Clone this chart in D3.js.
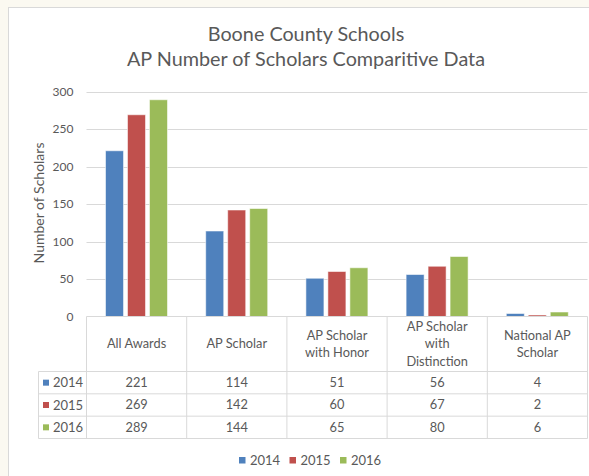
<!DOCTYPE html>
<html>
<head>
<meta charset="utf-8">
<script src="https://cdn.jsdelivr.net/npm/d3@7"></script>
<style>
  html, body { margin: 0; padding: 0; background: #fbf9f1; }
  svg { display: block; }
  text { font-family: Lato, "Open Sans", sans-serif; fill: #595959; }
</style>
</head>
<body>
<svg id="chart" width="589" height="476"></svg>
<script>
// ---- data ----
const categories = [
  ["All Awards"],
  ["AP Scholar"],
  ["AP Scholar", "with Honor"],
  ["AP Scholar", "with", "Distinction"],
  ["National AP", "Scholar"]
];
const years = ["2014", "2015", "2016"];
const values2014 = [221, 114, 51, 56, 4];
const values2015 = [269, 142, 60, 67, 2];
const values2016 = [289, 144, 65, 80, 6];
const yTicks = [0, 50, 100, 150, 200, 250, 300];
const titleLines = ["Boone County Schools", "AP Number of Scholars Comparitive Data"];
const yTitle = "Number of Scholars";

const seriesValues = [values2014, values2015, values2016];
const colors = ["#4f81bd", "#c0504d", "#9bbb59"];

// ---- layout ----
const svg = d3.select("#chart");
svg.append("rect").attr("x", 0).attr("y", 0).attr("width", 589).attr("height", 476).attr("fill", "#fbf9f1");
svg.append("rect").attr("x", 8.5).attr("y", 7.5).attr("width", 620).attr("height", 520)
  .attr("fill", "#ffffff").attr("stroke", "#d9d9d9");

const plotLeft = 86.5, plotRight = 587.5, plotTop = 91.5, plotBottom = 316.5;
const catKeys = categories.map((c, i) => i);

const x = d3.scaleBand().domain(catKeys).range([plotLeft, plotRight]).padding(0);
const xs = d3.scaleBand().domain(years).range([19, 81]).paddingInner(0.18).paddingOuter(0);
const y = d3.scaleLinear().domain([0, 300]).range([plotBottom, plotTop]);

// title
const title = svg.append("g");
title.selectAll("text").data(titleLines).join("text")
  .attr("x", 306).attr("y", (d, i) => 41 + i * 25)
  .attr("text-anchor", "middle")
  .style("font-size", "19.8px")
  .text(d => d);

// gridlines
svg.append("g").selectAll("line").data(yTicks.filter(t => t > 0)).join("line")
  .attr("x1", plotLeft).attr("x2", plotRight)
  .attr("y1", d => Math.round(y(d)) + 0.5).attr("y2", d => Math.round(y(d)) + 0.5)
  .attr("stroke", "#d9d9d9").attr("stroke-width", 1);

// y axis (labels only)
const yAxis = d3.axisLeft(y).tickValues(yTicks).tickSize(0).tickPadding(0);
const yg = svg.append("g").attr("transform", `translate(73.5,0)`).call(yAxis);
yg.select(".domain").remove();
yg.selectAll("text").style("font-size", "12px").attr("fill", "#595959")
  .style("font-family", "Lato, 'Open Sans', sans-serif");

// y title
svg.append("text")
  .attr("transform", "translate(44,203) rotate(-90)")
  .attr("text-anchor", "middle")
  .style("font-size", "14px")
  .text(yTitle);

// bars
const groups = svg.append("g").selectAll("g").data(catKeys).join("g")
  .attr("transform", d => `translate(${x(d)},0)`);
groups.selectAll("rect")
  .data(ci => years.map((yr, si) => ({ yr, si, v: seriesValues[si][ci] })))
  .join("rect")
  .attr("x", d => xs(d.yr))
  .attr("width", xs.bandwidth())
  .attr("y", d => y(d.v))
  .attr("height", d => y(0) - y(d.v))
  .attr("fill", d => colors[d.si])
  .attr("stroke", "#ffffff").attr("stroke-opacity", 0.55).attr("stroke-width", 1);

// data table
const tableLeft = 38.5;
const headerBottom = 371.5;
const rowY = d3.scaleBand().domain(years).range([headerBottom, 438.5]).padding(0);
const tg = svg.append("g").attr("stroke", "#d9d9d9").attr("stroke-width", 1).attr("fill", "none");
// top line (axis)
tg.append("line").attr("x1", plotLeft).attr("x2", plotRight).attr("y1", plotBottom).attr("y2", plotBottom);
// horizontal row lines
tg.selectAll("line.row").data([headerBottom, ...years.map(yr => rowY(yr) + rowY.bandwidth())]).join("line")
  .attr("class", "row")
  .attr("x1", tableLeft).attr("x2", plotRight)
  .attr("y1", d => d).attr("y2", d => d);
// vertical column lines
tg.selectAll("line.col").data([...catKeys.map(k => x(k)), plotRight]).join("line")
  .attr("class", "col")
  .attr("x1", d => d).attr("x2", d => d)
  .attr("y1", plotBottom).attr("y2", 438.5);
tg.append("line").attr("x1", tableLeft).attr("x2", tableLeft).attr("y1", headerBottom).attr("y2", 438.5);

// header labels
const lineH = 17.3;
const hdr = svg.append("g").selectAll("text").data(categories).join("text")
  .attr("text-anchor", "middle")
  .style("font-size", "12.8px");
hdr.each(function (lines, i) {
  const t = d3.select(this);
  const cx = x(i) + x.bandwidth() / 2;
  const cy = (plotBottom + headerBottom) / 2;
  lines.forEach((ln, j) => {
    t.append("tspan").attr("x", cx)
      .attr("y", cy + (j - (lines.length - 1) / 2) * lineH)
      .attr("dy", "0.35em")
      .text(ln);
  });
});

// row labels
const rl = svg.append("g").selectAll("g").data(years).join("g")
  .attr("transform", d => `translate(0,${rowY(d) + rowY.bandwidth() / 2})`);
rl.append("rect").attr("x", 43).attr("y", -3).attr("width", 6).attr("height", 6)
  .attr("fill", (d, i) => colors[i]);
rl.append("text").attr("x", 53).attr("dy", "0.35em").style("font-size", "13px").text(d => d);

// cell values
years.forEach((yr, si) => {
  svg.append("g").selectAll("text").data(seriesValues[si]).join("text")
    .attr("x", (d, ci) => x(ci) + x.bandwidth() / 2)
    .attr("y", rowY(yr) + rowY.bandwidth() / 2)
    .attr("dy", "0.35em")
    .attr("text-anchor", "middle")
    .style("font-size", "12.8px")
    .text(d => d);
});

// legend
const lg = svg.append("g").selectAll("g").data(years).join("g")
  .attr("transform", (d, i) => `translate(${239 + i * 50.5},460)`);
lg.append("rect").attr("x", 0).attr("y", -3).attr("width", 6.5).attr("height", 6.5)
  .attr("fill", (d, i) => colors[i]);
lg.append("text").attr("x", 11).attr("dy", "0.35em").style("font-size", "13px").text(d => d);
</script>
</body>
</html>
